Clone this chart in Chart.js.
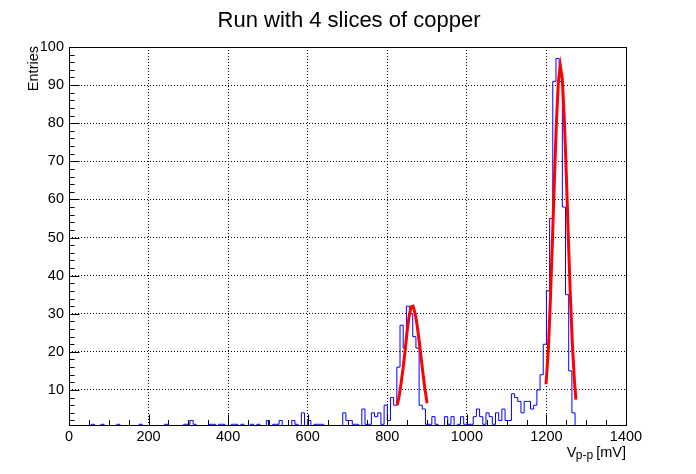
<!DOCTYPE html>
<html><head><meta charset="utf-8">
<script src="https://cdn.jsdelivr.net/npm/chart.js@4.4.1/dist/chart.umd.min.js"></script>
<style>html,body{margin:0;padding:0;background:#fff;}canvas{display:block;}</style>
</head><body>
<canvas id="c" width="696" height="474"></canvas>
<script>
// ---- data ----
const titleText = 'Run with 4 slices of copper';
const yTitle = 'Entries';
const xTitleMain = 'V', xTitleSub = 'p-p', xTitleUnit = '[mV]';
const binLow = 0;     // mV
const binWidth = 8;   // mV  (175 bins over 0 .. 1400 mV)
const counts = [
  0,0,0,0,0,0,0,0,1,0,     //   0 ..  72
  0,1,0,0,0,0,1,0,0,0,     //  80 .. 152
  0,0,0,1,0,0,0,0,0,0,     // 160 .. 232
  0,1,0,0,0,0,0,1,1,2,     // 240 .. 312
  1,0,0,0,0,1,1,0,1,1,     // 320 .. 392
  0,0,1,1,0,1,0,0,1,0,     // 400 .. 472
  1,0,0,2,0,1,1,2,0,0,     // 480 .. 552
  0,2,1,0,4,0,2,0,1,1,     // 560 .. 632
  1,0,0,0,0,0,0,4,2,2,     // 640 .. 712
  1,1,0,5,1,1,4,3,4,1,     // 720 .. 792
  6,2,8,6,16,27,21,32,30,24, // 800 .. 872
  21,6,5,1,1,3,1,0,0,3,    // 880 .. 952
  1,3,0,1,3,1,1,1,3,5,     // 960 .. 1032
  3,1,4,3,1,4,2,5,2,2,     // 1040 .. 1112
  9,8,7,4,7,7,5,6,10,14,   // 1120 .. 1192
  22,36,55,91,97,91,58,35,15,4, // 1200 .. 1272
  0,0,0,0,0,0,0,0,0,0,     // 1280 .. 1352
  0,0,0,0,0                // 1360 .. 1392
];
// fitted gaussian curves
const fit1X = [825,830,835,840,845,850,855,860,865,870,875,880,885,890,895,900];
const fit1Y = [6,8.5,12,16,20.5,25.5,29.5,31.8,32,30,27,23,18.5,14,10,6.5];
const fit2X = [1199,1205,1210,1215,1220,1225,1230,1235,1240,1245,1250,1255,1260,1265,1270,1274];
const fit2Y = [11.5,21,34,49,65,80,91,95,91.5,81,66.5,50,35,22.5,13,7.5];
// axes
const xTicks = [0,200,400,600,800,1000,1200,1400];
const xTickLabels = ['0','200','400','600','800','1000','1200','1400'];
const yTicks = [10,20,30,40,50,60,70,80,90,100];
const yTickLabels = ['10','20','30','40','50','60','70','80','90','100'];
const xMin = 0, xMax = 1400, xMinorStep = 50;
const yMin = 0.55, yMax = 100, yMinorStep = 2;

// ---- build ----
const FONT = '"Liberation Sans", Arial, Helvetica, sans-serif';
const histPoints = counts.map((c, i) => ({x: binLow + i * binWidth, y: c}));
histPoints.push({x: binLow + counts.length * binWidth, y: counts[counts.length - 1]});
const fit1 = fit1X.map((x, i) => ({x, y: fit1Y[i]}));
const fit2 = fit2X.map((x, i) => ({x, y: fit2Y[i]}));

const decor = {
  id: 'decor',
  afterDatasetsDraw(chart) {
    const {ctx, chartArea: a, scales: {x, y}} = chart;
    ctx.save();
    ctx.strokeStyle = '#000';
    ctx.lineWidth = 1;
    ctx.setLineDash([]);
    ctx.strokeRect(Math.round(a.left) + 0.5, Math.round(a.top) + 0.5,
                   Math.round(a.right - a.left), Math.round(a.bottom - a.top) - 1);
    ctx.beginPath();
    for (let v = xMin; v <= xMax + 1e-6; v += xMinorStep) {
      const px = Math.round(x.getPixelForValue(v)) + 0.5;
      const len = xTicks.includes(v) ? 11 : 5.5;
      ctx.moveTo(px, a.bottom - 0.5);
      ctx.lineTo(px, a.bottom - 0.5 - len);
    }
    for (let v = yMinorStep; v <= yMax + 1e-6; v += yMinorStep) {
      const py = Math.round(y.getPixelForValue(v)) + 0.5;
      const len = yTicks.includes(v) ? 10 : 5;
      ctx.moveTo(a.left + 0.5, py);
      ctx.lineTo(a.left + 0.5 + len, py);
    }
    ctx.stroke();
    ctx.restore();
  },
  afterDraw(chart) {
    const {ctx, chartArea: a} = chart;
    ctx.save();
    ctx.fillStyle = '#000';
    ctx.font = '22px ' + FONT;
    ctx.textAlign = 'center';
    ctx.textBaseline = 'alphabetic';
    ctx.fillText(titleText, 349, 27);
    ctx.save();
    ctx.translate(37.5, a.top - 1);
    ctx.rotate(-Math.PI / 2);
    ctx.font = '14.5px ' + FONT;
    ctx.textAlign = 'right';
    ctx.fillText(yTitle, 0, 0);
    ctx.restore();
    const base = 457;
    ctx.textAlign = 'left';
    ctx.font = '14.5px ' + FONT;
    const wU = ctx.measureText(xTitleUnit).width;
    const wV = ctx.measureText(xTitleMain).width;
    ctx.font = '12px ' + FONT;
    const wS = ctx.measureText(xTitleSub).width;
    const xU = a.right - wU;
    const xS = xU - 3 - wS;
    const xV = xS - wV + 0.5;
    ctx.font = '14.5px ' + FONT;
    ctx.fillText(xTitleUnit, xU, base);
    ctx.fillText(xTitleMain, xV, base);
    ctx.font = '12px ' + FONT;
    ctx.fillText(xTitleSub, xS, base + 1.5);
    ctx.restore();
  }
};

new Chart(document.getElementById('c'), {
  type: 'line',
  data: {
    datasets: [
      {label: 'fit1', data: fit1, borderColor: '#ff0000', borderWidth: 3, pointRadius: 0, tension: 0, fill: false, order: 0},
      {label: 'fit2', data: fit2, borderColor: '#ff0000', borderWidth: 3, pointRadius: 0, tension: 0, fill: false, order: 0},
      {label: 'hist', data: histPoints, borderColor: '#0000ff', borderWidth: 1, stepped: 'after', pointRadius: 0, tension: 0, fill: false, order: 1}
    ]
  },
  options: {
    responsive: false,
    animation: false,
    devicePixelRatio: 1,
    events: [],
    layout: {padding: {top: 47, right: 70, left: 0, bottom: 0}},
    plugins: {legend: {display: false}, tooltip: {enabled: false}, title: {display: false}},
    scales: {
      x: {
        type: 'linear', min: xMin, max: xMax,
        afterFit: s => { s.height = 48; },
        afterBuildTicks: s => { s.ticks = xTicks.map(v => ({value: v})); },
        ticks: {autoSkip: false, maxRotation: 0, padding: 2, color: '#000',
                font: {family: FONT, size: 14.5}, callback: (v, i) => xTickLabels[i]},
        grid: {color: '#000', lineWidth: 1, drawTicks: false},
        border: {display: false, dash: [1, 2]}
      },
      y: {
        type: 'linear', min: yMin, max: yMax,
        afterFit: s => { s.width = 69; },
        afterBuildTicks: s => { s.ticks = yTicks.map(v => ({value: v})); },
        ticks: {autoSkip: false, padding: 5, color: '#000',
                font: {family: FONT, size: 14.5}, callback: (v, i) => yTickLabels[i]},
        grid: {color: '#000', lineWidth: 1, drawTicks: false},
        border: {display: false, dash: [1, 2]}
      }
    }
  },
  plugins: [decor]
});
</script>
</body></html>
